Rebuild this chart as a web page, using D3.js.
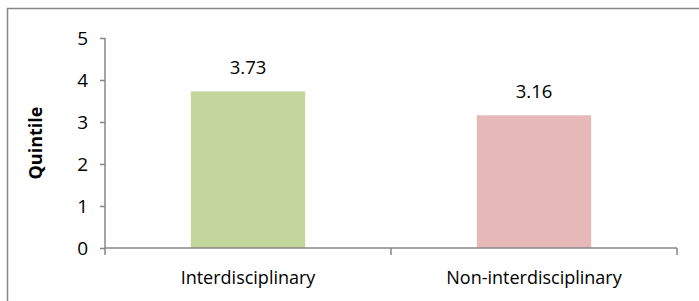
<!DOCTYPE html>
<html>
<head>
<meta charset="utf-8">
<script src="https://cdn.jsdelivr.net/npm/d3@7"></script>
<style>
body { margin: 0; background: #fff; }
text { font-family: "Open Sans", "Liberation Sans", sans-serif; fill: #000; }
</style>
</head>
<body>
<svg id="chart" width="699" height="301"></svg>
<script>
const CATEGORIES = ["Interdisciplinary", "Non-interdisciplinary"];
const VALUES = [3.73, 3.16];
const BAR_COLORS = ["#C3D69B", "#E6B9B8"];
const Y_TICKS = [0, 1, 2, 3, 4, 5];
const AXIS_GREY = "#878787";

const svg = d3.select("#chart");

//Outer frame: only left and top edges show in the crop
svg.append("path")
	.attr("d", "M7.5,301 V8.5 H699")
	.attr("fill", "none")
	.attr("stroke", AXIS_GREY)
	.attr("stroke-width", 1.5);

const PLOT_LEFT = 105, PLOT_RIGHT = 677, PLOT_TOP = 38, PLOT_BOTTOM = 248;

const x = d3.scaleBand().domain(CATEGORIES).range([PLOT_LEFT, PLOT_RIGHT]).paddingInner(0).paddingOuter(0);
const y = d3.scaleLinear().domain([0, 5]).range([PLOT_BOTTOM, PLOT_TOP]);
const barW = x.bandwidth() * 0.4;

//Bars
svg.selectAll("rect.bar")
	.data(CATEGORIES)
	.enter()
	.append("rect")
	.attr("class", "bar")
	.attr("x", d => x(d) + (x.bandwidth() - barW) / 2)
	.attr("y", (d, i) => y(VALUES[i]))
	.attr("width", barW)
	.attr("height", (d, i) => PLOT_BOTTOM - y(VALUES[i]))
	.attr("fill", (d, i) => BAR_COLORS[i]);

//Value labels
svg.selectAll("text.val")
	.data(CATEGORIES)
	.enter()
	.append("text")
	.attr("class", "val")
	.attr("x", d => x(d) + x.bandwidth() / 2)
	.attr("y", (d, i) => y(VALUES[i]) - 17)
	.attr("text-anchor", "middle")
	.style("font-size", "18.5px")
	.text((d, i) => VALUES[i].toFixed(2));

//Y axis
const yAxis = svg.append("g")
	.attr("transform", "translate(" + PLOT_LEFT + ",0)")
	.call(d3.axisLeft(y).tickValues(Y_TICKS).tickSize(5).tickPadding(12).tickFormat(d3.format("d")));
yAxis.selectAll("path, line").attr("stroke", AXIS_GREY).attr("stroke-width", 1.5);
yAxis.select(".domain").attr("d", "M0," + PLOT_TOP + "V" + PLOT_BOTTOM);
yAxis.selectAll("text").style("font-size", "19px").style("font-family", "'Open Sans', sans-serif").attr("fill", "#000");

//X axis with tick marks at category boundaries
const xAxis = svg.append("g")
	.attr("transform", "translate(0," + PLOT_BOTTOM + ")")
	.call(d3.axisBottom(x).tickSize(0).tickFormat(d => d));
xAxis.select(".domain").attr("stroke", AXIS_GREY).attr("stroke-width", 1.5).attr("d", "M" + PLOT_LEFT + ",0H" + PLOT_RIGHT);
xAxis.selectAll("text")
	.attr("y", 36).attr("dy", null)
	.style("font-size", "18px").style("font-family", "'Open Sans', sans-serif").attr("fill", "#000");

const boundaries = CATEGORIES.map(d => x(d)).concat([PLOT_RIGHT]);
svg.selectAll("line.xt")
	.data(boundaries)
	.enter()
	.append("line")
	.attr("class", "xt")
	.attr("x1", d => d).attr("x2", d => d)
	.attr("y1", PLOT_BOTTOM).attr("y2", PLOT_BOTTOM + 7)
	.attr("stroke", AXIS_GREY)
	.attr("stroke-width", 1.5);

//Y title
svg.append("text")
	.attr("transform", "translate(42," + ((PLOT_TOP + PLOT_BOTTOM) / 2) + ") rotate(-90)")
	.attr("text-anchor", "middle")
	.style("font-size", "18px")
	.style("font-weight", "bold")
	.text("Quintile");
</script>
</body>
</html>
